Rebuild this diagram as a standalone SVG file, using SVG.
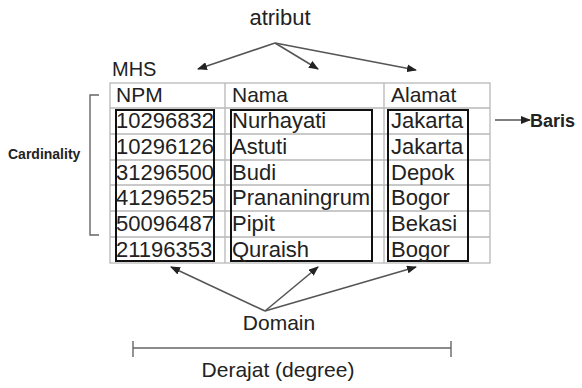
<svg xmlns="http://www.w3.org/2000/svg" width="582" height="388" viewBox="0 0 582 388">
  <defs>
    <marker id="arrow" markerWidth="10" markerHeight="8" refX="9" refY="4" orient="auto" markerUnits="userSpaceOnUse">
      <path d="M0,0 L10,4 L0,8 Z" fill="#222"/>
    </marker>
    <style>
      text { font-family: "Liberation Sans", Arial, sans-serif; fill: #222; }
      .cell { font-size: 22px; }
      .head { font-size: 21px; }
      .label { font-size: 21px; }
      .bold { font-weight: bold; }
      .grid { fill: none; stroke: #b8b8b8; stroke-width: 1.3; }
      .domain { fill: none; stroke: #111; stroke-width: 2; }
      .conn { fill: none; stroke: #555; stroke-width: 1.6; }
      .rule { fill: none; stroke: #666; stroke-width: 1.4; }
    </style>
  </defs>
  <rect width="582" height="388" fill="#fff"/>

  <!-- relation MHS -->
  <g id="table">
    <text x="112" y="76" style="font-size:20px">MHS</text>
    <rect class="grid" x="110" y="83" width="380" height="180"/>
    <path class="grid" d="M225,83 V263 M384,83 V263 M110,108 H490 M110,134 H490 M110,160 H490 M110,185 H490 M110,211 H490 M110,237 H490"/>
    <text class="head" x="116" y="102">NPM</text>
    <text class="head" x="232" y="102">Nama</text>
    <text class="head" x="391" y="102">Alamat</text>
  </g>

  <g id="col-npm">
    <rect class="domain" x="116" y="110" width="98" height="151"/>
    <text class="cell" x="116" y="128">10296832</text>
    <text class="cell" x="116" y="154">10296126</text>
    <text class="cell" x="116" y="180">31296500</text>
    <text class="cell" x="116" y="205">41296525</text>
    <text class="cell" x="116" y="231">50096487</text>
    <text class="cell" x="116" y="257">21196353</text>
  </g>

  <g id="col-nama">
    <rect class="domain" x="231" y="110" width="141" height="151"/>
    <text class="cell" x="232" y="128">Nurhayati</text>
    <text class="cell" x="232" y="154">Astuti</text>
    <text class="cell" x="232" y="180">Budi</text>
    <text class="cell" x="232" y="205">Prananingrum</text>
    <text class="cell" x="232" y="231">Pipit</text>
    <text class="cell" x="232" y="257">Quraish</text>
  </g>

  <g id="col-alamat">
    <rect class="domain" x="388" y="110" width="80" height="151"/>
    <text class="cell" x="391" y="128">Jakarta</text>
    <text class="cell" x="391" y="154">Jakarta</text>
    <text class="cell" x="391" y="180">Depok</text>
    <text class="cell" x="391" y="205">Bogor</text>
    <text class="cell" x="391" y="231">Bekasi</text>
    <text class="cell" x="391" y="257">Bogor</text>
  </g>

  <g id="atribut">
    <text class="label" x="280" y="25" text-anchor="middle" style="font-size:22px">atribut</text>
  </g>

  <g id="baris">
    <text class="bold" x="530" y="127" style="font-size:18px">Baris</text>
  </g>

  <g id="cardinality">
    <text class="bold" x="8" y="159" style="font-size:14px">Cardinality</text>
  </g>

  <g id="domain">
    <text class="label" x="279" y="330" text-anchor="middle">Domain</text>
  </g>

  <g id="derajat">
    <text class="label" x="278" y="377" text-anchor="middle">Derajat (degree)</text>
  </g>

  <!-- connectors -->
  <g id="connectors">
    <path class="conn" d="M275,43 L198,69" marker-end="url(#arrow)"/>
    <path class="conn" d="M275,43 L318,69" marker-end="url(#arrow)"/>
    <path class="conn" d="M275,43 L416,70" marker-end="url(#arrow)"/>
    <path class="conn" d="M495,120 L530,120" marker-end="url(#arrow)"/>
    <path class="conn" d="M265,311 L171,267" marker-end="url(#arrow)"/>
    <path class="conn" d="M265,311 L318,267" marker-end="url(#arrow)"/>
    <path class="conn" d="M265,311 L416,267" marker-end="url(#arrow)"/>
    <path class="rule" d="M99,95 H90 V235 H99"/>
    <path class="rule" d="M133,348 H451 M133,341 V357 M451,341 V357"/>
  </g>
</svg>
